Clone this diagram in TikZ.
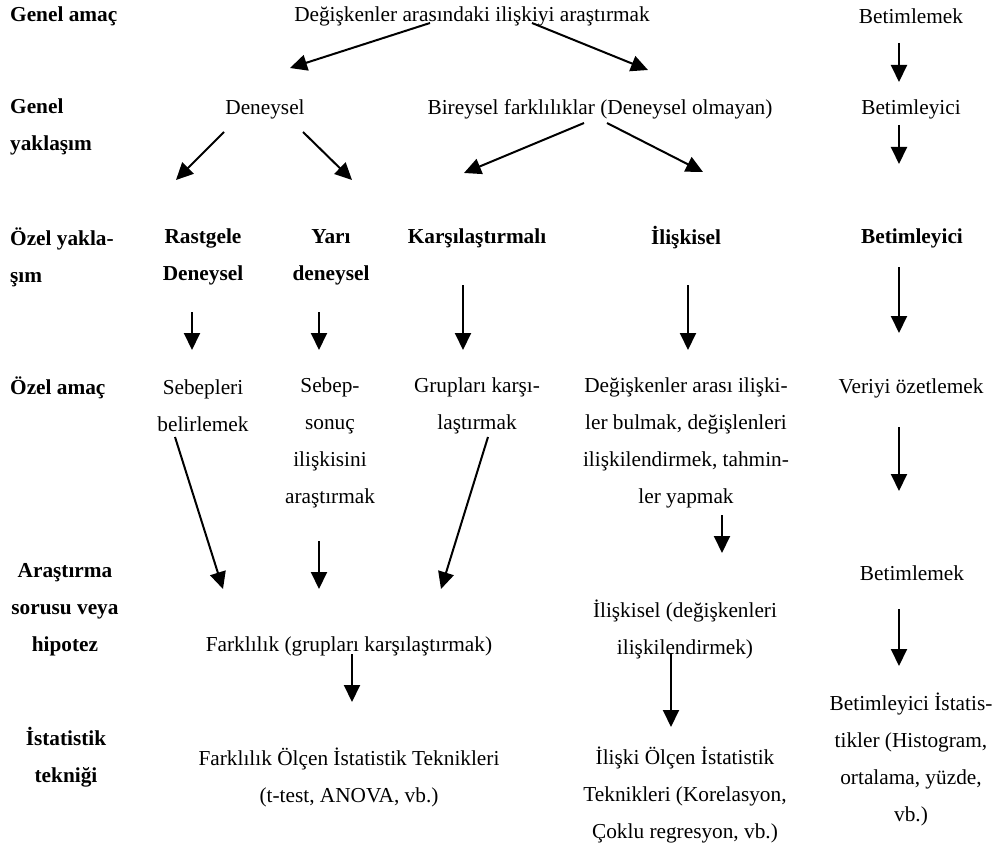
\documentclass[tikz,border=0pt]{standalone}
\usepackage{fontspec}
\setmainfont{Liberation Serif}
\usetikzlibrary{arrows.meta}
\begin{document}
\begin{tikzpicture}[x=1pt,y=-1pt,
  txt/.style={font=\fontsize{21.3}{37}\selectfont, inner sep=0pt, align=center},
  lbl/.style={inner sep=0pt, font=\fontsize{21.3}{37}\selectfont\bfseries},
  arr/.style={line width=2pt, -{Triangle[length=17pt,width=16pt]}}]
\useasboundingbox (0,0) rectangle (997,848);
\begin{scope}[yshift=-2pt]
% left labels
\node[lbl, anchor=west] (l1) at (10,14) {Genel amaç};
\node[lbl, anchor=west, align=left] (l2) at (10,125) {Genel\\yaklaşım};
\node[lbl, anchor=west, align=left] (l3) at (10,255) {Özel yakla-\\şım};
\node[lbl, anchor=west] (l4) at (10,386) {Özel amaç};
\node[lbl, align=center] (l5) at (65,608) {Araştırma\\sorusu veya\\hipotez};
\node[lbl, align=center] (l6) at (66,755) {İstatistik\\tekniği};
% row 1
\node[txt] (top) at (472,14) {Değişkenler arasındaki ilişkiyi araştırmak};
\node[txt] (b1) at (911,14) {Betimlemek};
% row 2
\node[txt] (den) at (265,107) {Deneysel};
\node[txt] (bir) at (600,107) {Bireysel farklılıklar (Deneysel olmayan)};
\node[txt] (b2) at (911,107) {Betimleyici};
% row 3
\node[lbl, align=center] (ras) at (203,255) {Rastgele\\Deneysel};
\node[lbl, align=center] (yar) at (331,255) {Yarı\\deneysel};
\node[lbl] (kar) at (477,236) {Karşılaştırmalı};
\node[lbl] (ili) at (686,236) {İlişkisel};
\node[lbl] (b3) at (912,236) {Betimleyici};
% row 4
\node[txt] (seb) at (203,404) {Sebepleri\\belirlemek};
\node[txt] (ss) at (330,441) {Sebep-\\sonuç\\ilişkisini\\araştırmak};
\node[txt] (gru) at (477,404) {Grupları karşı-\\laştırmak};
\node[txt] (deg) at (686,441) {Değişkenler arası ilişki-\\ler bulmak, değişlenleri\\ilişkilendirmek, tahmin-\\ler yapmak};
\node[txt] (ver) at (911,386) {Veriyi özetlemek};
% row 5
\node[txt] (far) at (349,644) {Farklılık (grupları karşılaştırmak)};
\node[txt] (ilk) at (685,627) {İlişkisel (değişkenleri\\ilişkilendirmek)};
\node[txt] (b5) at (912,571) {Betimlemek};
% row 6
\node[txt] (fot) at (349,775) {Farklılık Ölçen İstatistik Teknikleri\\(t-test, ANOVA, vb.)};
\node[txt] (iot) at (685,793.5) {İlişki Ölçen İstatistik\\Teknikleri (Korelasyon,\\Çoklu regresyon, vb.)};
\node[txt] (bit) at (911,757.5) {Betimleyici İstatis-\\tikler (Histogram,\\ortalama, yüzde,\\vb.)};
\end{scope}
% arrow endpoints
\coordinate (a1s) at (430,23);  \coordinate (a1e) at (290,68);
\coordinate (a2s) at (532,23);  \coordinate (a2e) at (648,70);
\coordinate (a3s) at (899,43);  \coordinate (a3e) at (899,82);
\coordinate (a4s) at (224,132); \coordinate (a4e) at (176,180);
\coordinate (a5s) at (303,132); \coordinate (a5e) at (352,180);
\coordinate (a6s) at (584,123); \coordinate (a6e) at (464,173);
\coordinate (a7s) at (607,123); \coordinate (a7e) at (703,172);
\coordinate (a8s) at (899,125); \coordinate (a8e) at (899,164);
\coordinate (a9s) at (192,312); \coordinate (a9e) at (192,350);
\coordinate (a10s) at (319,312); \coordinate (a10e) at (319,350);
\coordinate (a11s) at (463,285); \coordinate (a11e) at (463,350);
\coordinate (a12s) at (688,285); \coordinate (a12e) at (688,350);
\coordinate (a13s) at (899,267); \coordinate (a13e) at (899,333);
\coordinate (a14s) at (175,437); \coordinate (a14e) at (223,589);
\coordinate (a15s) at (319,541); \coordinate (a15e) at (319,589);
\coordinate (a16s) at (488,437); \coordinate (a16e) at (441,589);
\coordinate (a17s) at (722,515); \coordinate (a17e) at (722,553);
\coordinate (a18s) at (899,427); \coordinate (a18e) at (899,491);
\coordinate (a19s) at (352,654); \coordinate (a19e) at (352,702);
\coordinate (a20s) at (671,653); \coordinate (a20e) at (671,727);
\coordinate (a21s) at (899,609); \coordinate (a21e) at (899,666);
\foreach \i in {1,...,21} \draw[arr] (a\i s) -- (a\i e);
\end{tikzpicture}
\end{document}
